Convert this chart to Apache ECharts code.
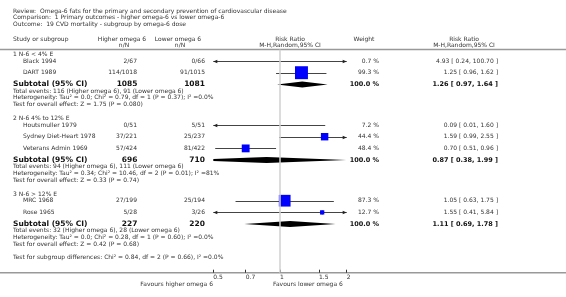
<!DOCTYPE html>
<html>
<head>
<meta charset="utf-8">
<script src="https://cdn.jsdelivr.net/npm/echarts@6/dist/echarts.min.js"></script>
<style>
html, body { margin: 0; padding: 0; background: #fff; }
#main { width: 566px; height: 297px; }
</style>
</head>
<body>
<div id="main"></div>
<script>
// header texts
var titleLines = [
    'Review:  Omega-6 fats for the primary and secondary prevention of cardiovascular disease',
    'Comparison:  1 Primary outcomes - higher omega-6 vs lower omega-6',
    'Outcome:  19 CVD mortality - subgroup by omega-6 dose'
];

// subgroups
var groups = ['1 N-6 < 4% E', '2 N-6 4% to 12% E', '3 N-6 > 12% E'];

// studies
var studyNames = ['Black 1994', 'DART 1989', 'Houtsmuller 1979', 'Sydney Diet-Heart 1978', 'Veterans Admin 1969', 'MRC 1968', 'Rose 1965'];
var studyGroup = [0, 0, 1, 1, 1, 2, 2];
var higherNN = ['2/67', '114/1018', '0/51', '37/221', '57/424', '27/199', '5/28'];
var lowerNN = ['0/66', '91/1015', '5/51', '25/237', '81/422', '25/194', '3/26'];
var weights = [0.7, 99.3, 7.2, 44.4, 48.4, 87.3, 12.7];
var rr = [4.93, 1.25, 0.09, 1.59, 0.70, 1.05, 1.55];
var rrLow = [0.24, 0.96, 0.01, 0.99, 0.51, 0.63, 0.41];
var rrHigh = [100.70, 1.62, 1.60, 2.55, 0.96, 1.75, 5.84];

// subtotals
var subHigher = [1085, 696, 227];
var subLower = [1081, 710, 220];
var subRR = [1.26, 0.87, 1.11];
var subLow = [0.97, 0.38, 0.69];
var subHigh = [1.64, 1.99, 1.78];
var subEvents = [
    'Total events: 116 (Higher omega 6), 91 (Lower omega 6)',
    'Total events: 94 (Higher omega 6), 111 (Lower omega 6)',
    'Total events: 32 (Higher omega 6), 28 (Lower omega 6)'
];
var subHet = [
    'Heterogeneity: Tau\u00b2 = 0.0; Chi\u00b2 = 0.79, df = 1 (P = 0.37); I\u00b2 =0.0%',
    'Heterogeneity: Tau\u00b2 = 0.34; Chi\u00b2 = 10.46, df = 2 (P = 0.01); I\u00b2 =81%',
    'Heterogeneity: Tau\u00b2 = 0.0; Chi\u00b2 = 0.28, df = 1 (P = 0.60); I\u00b2 =0.0%'
];
var subTest = [
    'Test for overall effect: Z = 1.75 (P = 0.080)',
    'Test for overall effect: Z = 0.33 (P = 0.74)',
    'Test for overall effect: Z = 0.42 (P = 0.68)'
];
var subgroupDiff = 'Test for subgroup differences: Chi\u00b2 = 0.84, df = 2 (P = 0.66), I\u00b2 =0.0%';

// axis
var xTicks = [0.5, 0.7, 1, 1.5, 2];
var favours = ['Favours higher omega 6', 'Favours lower omega 6'];

// ---- layout ----
var FONT = '"DejaVu Sans"';
var TXT = '#333';
var AXIS_Y = 272.7, TOP_Y = 49.5;
var LN_MIN = Math.log(xTicks[0]), LN_MAX = Math.log(xTicks[xTicks.length - 1]);

var groupY = [], studyY = [], subY = [], infoY = [];
var y = 54.5;
groups.forEach(function (g, gi) {
    groupY[gi] = y;
    y += 6.5;
    studyNames.forEach(function (s, i) {
        if (studyGroup[i] === gi) { studyY[i] = y; y += 11.7; }
    });
    subY[gi] = y;
    infoY[gi] = [y + 6.7, y + 13.4, y + 20.1];
    y += 20.1 + 14;
});
var diffY = infoY[2][2] + 13.5;

function fmt2(v) { return v.toFixed(2); }
function ciText(a, b, c) { return fmt2(a) + ' [ ' + fmt2(b) + ', ' + fmt2(c) + ' ]'; }

function txt(x, yy, s, opt) {
    opt = opt || {};
    return {
        type: 'text', x: x, y: yy, silent: true,
        style: {
            text: s,
            fill: opt.fill || TXT,
            font: (opt.bold ? 'bold ' : '') + (opt.size || 6) + 'px ' + FONT,
            align: opt.align || 'left',
            verticalAlign: 'middle'
        }
    };
}

var graphics = [];
titleLines.forEach(function (t, i) { graphics.push(txt(13, 11 + i * 6.5, t)); });
graphics.push(txt(13, 39, 'Study or subgroup'));
graphics.push(txt(122, 39, 'Higher omega 6', { align: 'center' }));
graphics.push(txt(124, 45.5, 'n/N', { align: 'center' }));
graphics.push(txt(178, 39, 'Lower omega 6', { align: 'center' }));
graphics.push(txt(180, 45.5, 'n/N', { align: 'center' }));
graphics.push(txt(290, 39, 'Risk Ratio', { align: 'center' }));
graphics.push(txt(290, 45.5, 'M-H,Random,95% CI', { align: 'center' }));
graphics.push(txt(364, 39, 'Weight', { align: 'center' }));
graphics.push(txt(464, 39, 'Risk Ratio', { align: 'center' }));
graphics.push(txt(464, 45.5, 'M-H,Random,95% CI', { align: 'center' }));
graphics.push({ type: 'line', silent: true, shape: { x1: 0, y1: TOP_Y, x2: 566, y2: TOP_Y }, style: { stroke: '#999', lineWidth: 1.5 } });
graphics.push({ type: 'line', silent: true, shape: { x1: 0, y1: AXIS_Y, x2: 566, y2: AXIS_Y }, style: { stroke: '#999', lineWidth: 1.5 } });

groups.forEach(function (g, gi) {
    graphics.push(txt(13, groupY[gi], g));
    graphics.push(txt(13, subY[gi], 'Subtotal (95% CI)', { bold: true, size: 7.5, fill: '#111' }));
    graphics.push(txt(137.5, subY[gi], String(subHigher[gi]), { bold: true, size: 7.5, align: 'right', fill: '#111' }));
    graphics.push(txt(205, subY[gi], String(subLower[gi]), { bold: true, size: 7.5, align: 'right', fill: '#111' }));
    graphics.push(txt(379, subY[gi], '100.0 %', { bold: true, size: 6.5, align: 'right', fill: '#111' }));
    graphics.push(txt(498, subY[gi], ciText(subRR[gi], subLow[gi], subHigh[gi]), { bold: true, size: 6.5, align: 'right', fill: '#111' }));
    graphics.push(txt(13, infoY[gi][0], subEvents[gi]));
    graphics.push(txt(13, infoY[gi][1], subHet[gi]));
    graphics.push(txt(13, infoY[gi][2], subTest[gi]));
});
studyNames.forEach(function (s, i) {
    graphics.push(txt(23, studyY[i], s));
    graphics.push(txt(137, studyY[i], higherNN[i], { align: 'right' }));
    graphics.push(txt(205, studyY[i], lowerNN[i], { align: 'right' }));
    graphics.push(txt(379, studyY[i], weights[i].toFixed(1) + ' %', { align: 'right' }));
    graphics.push(txt(498, studyY[i], ciText(rr[i], rrLow[i], rrHigh[i]), { align: 'right' }));
});
graphics.push(txt(13, diffY, subgroupDiff));
graphics.push(txt(213, 284, favours[0], { align: 'right' }));
graphics.push(txt(273, 284, favours[1]));

// ---- marks ----
var ciData = studyNames.map(function (s, i) {
    return [Math.log(rrLow[i]), Math.log(rrHigh[i]), studyY[i], Math.log(rr[i])];
});
var squareData = studyNames.map(function (s, i) {
    return [Math.log(rr[i]), studyY[i], weights[i]];
});
var diamondData = groups.map(function (g, gi) {
    return [Math.log(subLow[gi]), Math.log(subHigh[gi]), subY[gi], Math.log(subRR[gi])];
});

function arrowHead(p, dir) {
    return {
        type: 'polygon',
        shape: { points: [[p[0], p[1]], [p[0] - dir * 4, p[1] - 1.8], [p[0] - dir * 4, p[1] + 1.8]] },
        style: { fill: '#222' }
    };
}

function renderCI(params, api) {
    var lo = api.value(0), hi = api.value(1), yy = api.value(2);
    var a = api.coord([Math.max(lo, LN_MIN), yy]);
    var b = api.coord([Math.min(hi, LN_MAX), yy]);
    var py = Math.round(a[1]) + 0.5;
    var children = [{
        type: 'line',
        shape: { x1: a[0], y1: py, x2: b[0], y2: py },
        style: { stroke: '#444', lineWidth: 1 }
    }];
    if (lo < LN_MIN) children.push(arrowHead([a[0], py], -1));
    if (hi > LN_MAX) children.push(arrowHead([b[0], py], 1));
    return { type: 'group', children: children };
}

function renderPlus(params, api) {
    var mid = api.value(3), yy = api.value(2);
    if (mid < LN_MIN || mid > LN_MAX) return null;
    var p = api.coord([mid, yy]);
    var py = Math.round(p[1]) + 0.5;
    return {
        type: 'group',
        children: [
            { type: 'line', shape: { x1: p[0] - 2, y1: py, x2: p[0] + 2, y2: py }, style: { stroke: '#000', lineWidth: 1 } },
            { type: 'line', shape: { x1: p[0], y1: py - 2, x2: p[0], y2: py + 2 }, style: { stroke: '#000', lineWidth: 1 } }
        ]
    };
}

function renderDiamond(params, api) {
    var lo = api.value(0), hi = api.value(1), yy = api.value(2), mid = api.value(3);
    var h = 3;
    var pl = api.coord([lo, yy]), pm = api.coord([mid, yy]), ph = api.coord([hi, yy]);
    var xmin = api.coord([LN_MIN, yy])[0], xmax = api.coord([LN_MAX, yy])[0];
    var cy = pm[1];
    var top = [], bottom = [];
    if (pl[0] < xmin) {
        var t = (xmin - pl[0]) / (pm[0] - pl[0]);
        top.push([xmin, cy - h * t]);
        bottom.unshift([xmin, cy + h * t]);
    } else {
        top.push([pl[0], cy]);
    }
    top.push([pm[0], cy - h]);
    bottom.unshift([pm[0], cy + h]);
    if (ph[0] > xmax) {
        var t2 = (ph[0] - xmax) / (ph[0] - pm[0]);
        top.push([xmax, cy - h * t2]);
        top.push([xmax, cy + h * t2]);
    } else {
        top.push([ph[0], cy]);
    }
    return {
        type: 'polygon',
        shape: { points: top.concat(bottom) },
        style: { fill: '#000' }
    };
}

var dom = document.getElementById('main');
var myChart = echarts.init(dom, null, { renderer: 'canvas' });

var option = {
    animation: false,
    grid: { left: 213.3, width: 133.4, top: TOP_Y, bottom: 297 - AXIS_Y },
    xAxis: {
        type: 'value',
        min: LN_MIN,
        max: LN_MAX,
        axisLine: { show: false },
        splitLine: { show: false },
        axisTick: {
            inside: true,
            length: 3,
            customValues: xTicks.map(Math.log),
            lineStyle: { color: '#333', width: 1 }
        },
        axisLabel: {
            customValues: xTicks.map(Math.log),
            formatter: function (v) {
                var best = xTicks[0];
                xTicks.forEach(function (t) {
                    if (Math.abs(Math.log(t) - v) < Math.abs(Math.log(best) - v)) best = t;
                });
                return String(best);
            },
            align: 'left',
            margin: 2,
            fontSize: 6,
            fontFamily: 'DejaVu Sans',
            color: TXT
        }
    },
    yAxis: { type: 'value', inverse: true, min: TOP_Y, max: AXIS_Y, show: false },
    graphic: graphics,
    series: [
        {
            type: 'custom',
            clip: false,
            renderItem: renderCI,
            data: ciData,
            silent: true
        },
        {
            type: 'scatter',
            symbol: 'rect',
            symbolSize: function (d) { return 3 + d[2] * 0.1; },
            itemStyle: { color: '#0000ff', opacity: 1 },
            data: squareData,
            silent: true,
            markLine: {
                silent: true,
                symbol: 'none',
                label: { show: false },
                lineStyle: { color: '#d0d0d0', width: 1.5, type: 'solid' },
                data: [{ xAxis: 0 }]
            }
        },
        {
            type: 'custom',
            clip: false,
            renderItem: renderPlus,
            data: ciData,
            silent: true
        },
        {
            type: 'custom',
            clip: false,
            renderItem: renderDiamond,
            data: diamondData,
            silent: true
        }
    ]
};

if (option && typeof option === 'object') {
    myChart.setOption(option);
}

window.addEventListener('resize', myChart.resize);
</script>
</body>
</html>
